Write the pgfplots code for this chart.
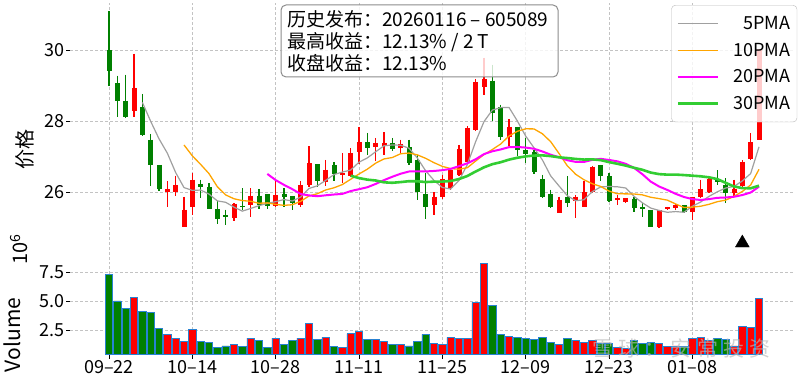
\documentclass[border=0pt]{standalone}
\usepackage{fontspec}
\setmainfont{Noto Sans CJK SC}
\newfontfamily\wmfont[LetterSpace=25]{Noto Sans CJK SC}
\usepackage{pgfplots}
\pgfplotsset{compat=1.18}
\usepackage{pgfplotstable}

\definecolor{cred}{RGB}{255,0,0}
\definecolor{cgreen}{RGB}{0,128,0}
\definecolor{ma5c}{RGB}{160,160,160}
\definecolor{ma10c}{RGB}{255,165,0}
\definecolor{ma20c}{RGB}{255,0,255}
\definecolor{ma30c}{RGB}{50,205,50}
\definecolor{baredge}{RGB}{40,130,210}
\definecolor{gridc}{RGB}{195,195,195}
\definecolor{boxc}{RGB}{140,140,140}

\pgfplotstableread{
x o h l c
3 28.28 29.91 28.12 28.94
7 26.01 26.30 25.59 26.09
8 26.00 26.46 25.89 26.20
9 25.00 25.87 25.00 25.50
10 25.57 26.55 25.35 26.35
15 25.26 25.69 25.19 25.67
17 25.62 26.11 25.29 25.90
20 25.61 26.35 25.57 25.92
23 25.64 26.30 25.59 26.20
24 26.20 27.29 26.14 26.82
26 26.28 26.91 26.16 26.63
28 26.47 27.10 26.25 26.55
29 26.46 27.24 26.42 27.10
30 27.12 27.83 26.80 27.41
32 27.27 27.53 26.88 27.39
33 27.29 27.69 27.05 27.39
35 27.24 27.48 27.07 27.37
39 25.62 26.00 25.35 25.87
40 25.87 26.49 25.80 26.37
41 26.11 26.63 26.06 26.61
42 26.49 27.33 26.44 27.22
43 26.86 27.86 26.82 27.81
44 27.76 29.20 27.72 29.11
45 28.97 29.79 28.75 29.20
48 27.56 28.05 27.29 27.84
54 25.42 25.87 25.40 25.78
56 25.75 25.92 25.26 25.87
57 25.59 26.30 25.59 26.00
58 26.00 26.74 25.98 26.72
61 25.78 25.92 25.64 25.82
62 25.73 25.83 25.69 25.83
66 25.01 25.50 24.99 25.48
67 25.53 25.59 25.48 25.57
68 25.54 25.66 25.50 25.64
70 25.43 25.87 25.21 25.87
71 25.87 26.35 25.83 26.08
72 25.99 26.40 25.97 26.37
75 25.97 26.35 25.87 26.09
76 26.16 26.90 26.12 26.86
77 26.93 27.67 26.91 27.41
78 27.46 30.05 27.46 30.05
}\redtab

\pgfplotstableread{
x o h l c
0 30.00 31.11 28.99 29.43
1 29.08 29.29 28.11 28.56
2 28.58 29.32 28.09 28.12
4 28.39 28.77 27.59 27.62
5 27.48 27.64 26.18 26.75
6 26.77 26.77 26.04 26.09
11 26.23 26.35 25.83 26.14
12 26.14 26.25 25.52 25.52
13 25.52 25.75 25.10 25.24
14 25.34 25.50 25.07 25.30
16 25.61 26.11 25.50 25.57
18 25.90 26.08 25.52 25.64
19 25.94 25.94 25.52 25.61
21 25.95 26.11 25.59 25.87
22 25.89 25.89 25.50 25.69
25 26.79 26.79 26.14 26.30
27 26.75 26.85 26.30 26.52
31 27.41 27.67 27.05 27.24
34 27.39 27.53 27.15 27.22
36 27.27 27.48 26.77 26.82
37 26.91 27.05 25.78 26.01
38 25.95 26.54 25.23 25.57
46 29.15 29.60 28.00 28.24
47 28.41 28.47 27.48 27.56
49 27.84 27.84 27.01 27.20
50 27.20 27.53 26.82 27.07
51 27.13 27.20 26.52 26.58
52 26.37 26.49 25.83 25.86
53 25.94 26.07 25.54 25.57
55 25.87 26.44 25.59 25.69
59 26.77 26.77 26.30 26.44
60 26.44 26.54 25.73 25.76
63 25.80 25.87 25.45 25.54
64 25.57 25.70 25.29 25.53
65 25.48 25.48 25.00 25.02
69 25.62 25.64 25.40 25.43
73 26.35 26.61 26.20 26.28
74 26.20 26.39 25.69 25.97
}\greentab

\pgfplotstableread{
x m5 m10 m20 m30
0 nan nan nan nan
1 nan nan nan nan
2 nan nan nan nan
3 nan nan nan nan
4 28.534 nan nan nan
5 27.998 nan nan nan
6 27.504 nan nan nan
7 27.098 nan nan nan
8 26.550 nan nan nan
9 26.126 27.330 nan nan
10 26.046 27.022 nan nan
11 26.056 26.780 nan nan
12 25.942 26.520 nan nan
13 25.750 26.150 nan nan
14 25.710 25.918 nan nan
15 25.574 25.810 nan nan
16 25.460 25.758 nan nan
17 25.536 25.739 nan nan
18 25.616 25.683 nan nan
19 25.678 25.694 26.512 nan
20 25.728 25.651 26.337 nan
21 25.788 25.624 26.202 nan
22 25.746 25.641 26.081 nan
23 25.858 25.737 25.944 nan
24 26.100 25.889 25.904 nan
25 26.176 25.952 25.881 nan
26 26.328 26.058 25.908 nan
27 26.494 26.120 25.930 nan
28 26.564 26.211 25.947 nan
29 26.620 26.360 26.027 26.461
30 26.842 26.509 26.080 26.394
31 26.964 26.646 26.135 26.350
32 27.138 26.816 26.229 26.326
33 27.306 26.935 26.336 26.274
34 27.330 26.975 26.432 26.261
35 27.322 27.082 26.517 26.281
36 27.238 27.101 26.580 26.306
37 26.962 27.050 26.585 26.303
38 26.598 26.952 26.582 26.282
39 26.328 26.829 26.595 26.294
40 26.128 26.725 26.617 26.295
41 26.086 26.662 26.654 26.311
42 26.328 26.645 26.731 26.367
43 26.776 26.687 26.811 26.453
44 27.424 26.876 26.926 26.580
45 27.990 27.059 27.071 26.698
46 28.316 27.201 27.151 26.787
47 28.384 27.356 27.203 26.842
48 28.390 27.583 27.268 26.915
49 28.008 27.716 27.273 26.968
50 27.582 27.786 27.256 27.007
51 27.250 27.783 27.223 27.030
52 26.910 27.647 27.146 27.036
53 26.456 27.423 27.055 27.015
54 26.172 27.090 26.983 26.980
55 25.896 26.739 26.899 26.960
56 25.754 26.502 26.852 26.935
57 25.782 26.346 26.851 26.917
58 26.012 26.234 26.909 26.923
59 26.144 26.158 26.937 26.901
60 26.158 26.027 26.907 26.846
61 26.148 25.951 26.867 26.799
62 26.114 25.948 26.798 26.747
63 25.878 25.945 26.684 26.685
64 25.696 25.920 26.505 26.629
65 25.548 25.853 26.296 26.550
66 25.480 25.814 26.158 26.506
67 25.428 25.771 26.059 26.491
68 25.448 25.663 25.949 26.493
69 25.428 25.562 25.860 26.479
70 25.598 25.573 25.800 26.462
71 25.718 25.599 25.775 26.444
72 25.878 25.653 25.800 26.416
73 26.006 25.727 25.836 26.365
74 26.114 25.771 25.846 26.260
75 26.158 25.878 25.866 26.157
76 26.314 26.016 25.915 26.111
77 26.522 26.200 25.986 26.106
78 27.276 26.641 26.152 26.179
}\matab

\pgfplotstableread{
x v
3 5.33
7 2.12
8 1.72
9 1.48
10 2.50
15 1.26
17 1.78
20 1.80
23 1.80
24 3.02
26 1.86
28 1.02
29 2.18
30 2.35
32 1.66
33 1.48
35 1.20
39 1.34
40 1.26
41 1.86
42 1.80
43 1.74
44 4.90
45 8.27
48 1.92
54 1.26
56 1.57
57 1.43
58 1.60
61 0.96
62 0.91
66 1.34
67 1.05
68 1.11
70 1.72
71 1.83
72 1.60
75 1.11
76 2.82
77 2.73
78 5.24
}\rvol

\pgfplotstableread{
x v
0 7.32
1 5.01
2 4.32
4 4.14
5 4.03
6 2.64
11 1.52
12 1.40
13 1.02
14 1.11
16 1.05
18 1.60
19 0.96
21 1.20
22 1.57
25 1.69
27 1.05
31 1.66
34 1.20
36 1.11
37 1.48
38 2.12
46 4.66
47 2.12
49 1.86
50 1.80
51 1.69
52 1.86
53 1.43
55 1.74
59 1.34
60 1.34
63 1.57
64 1.34
65 1.43
69 1.05
73 1.74
74 1.69
}\gvol

\pgfplotsset{
  common/.style={
    scale only axis, anchor=south west,
    width=725pt,
    xmin=-4.68, xmax=82.32,
    axis x line*=bottom, axis y line*=left,
    axis line style={draw=none},
    xtick={0,10,...,70},
    tick align=outside, major tick length=4pt,
    tick style={black, line width=0.8pt},
    grid=major,
    major grid style={gridc, dash pattern=on 3pt off 2pt, line width=0.8pt},
    tick label style={font=\fontsize{18}{20}\selectfont},
    /pgf/number format/assume math mode=true,
    yticklabel style={inner xsep=1.5pt},
    xticklabel style={inner ysep=2pt},
    filter discard warning=false,
  },
  candle/.style={only marks, mark=*, mark size=0pt,
    mark options={draw opacity=0, fill opacity=0}, forget plot,
    error bars/.cd, y dir=minus, y explicit, error mark=none},
}

\begin{document}
\begin{tikzpicture}
\path[use as bounding box] (0pt,0pt) rectangle (800pt,380pt);

\begin{axis}[common,
  at={(70pt,120pt)}, height=257pt,
  ymin=24.08, ymax=31.34,
  xticklabels={}, xtick style={draw=none},
  ytick={26,28,30}, yticklabels={26,28,30},
  legend cell align=right,
  legend image code/.code={\draw[#1, line cap=butt] (0pt,0pt) -- (40pt,0pt);},
  legend style={at={(1.003,0.992)}, anchor=north east,
    draw=gray!55, rounded corners=4pt, fill=white, fill opacity=0.8,
    text opacity=1, draw opacity=1,
    font=\fontsize{18}{20}\selectfont, row sep=8pt,
    inner xsep=5pt, inner ysep=9pt,
    /tikz/every odd column/.append style={column sep=12pt}},
]
% wicks
\addplot[candle, error bar style={line width=1.3pt, color=cgreen}]
  table[x=x, y=h, y error minus expr=\thisrow{h}-\thisrow{l}] \greentab;
\addplot[candle, error bar style={line width=1.3pt, color=cred}]
  table[x=x, y=h, y error minus expr=\thisrow{h}-\thisrow{l}] \redtab;
% bodies
\addplot[candle, error bar style={line width=5pt, color=cgreen, line cap=butt}]
  table[x=x, y=o, y error minus expr=\thisrow{o}-\thisrow{c}] \greentab;
\addplot[candle, error bar style={line width=5pt, color=cred, line cap=butt}]
  table[x=x, y=c, y error minus expr=\thisrow{c}-\thisrow{o}] \redtab;
% moving averages
\addplot[ma5c, line width=1.2pt] table[x=x, y=m5] \matab;
\addlegendentry{5PMA}
\addplot[ma10c, line width=1.3pt] table[x=x, y=m10] \matab;
\addlegendentry{10PMA}
\addplot[ma20c, line width=2pt] table[x=x, y=m20] \matab;
\addlegendentry{20PMA}
\addplot[ma30c, line width=2.6pt] table[x=x, y=m30] \matab;
\addlegendentry{30PMA}
% release marker
\addplot[only marks, mark=triangle*, mark size=8pt, black, forget plot]
  coordinates {(76,24.56)};
\end{axis}

\begin{axis}[common,
  at={(70pt,25.5pt)}, height=92.5pt,
  ymin=0.37, ymax=8.39,
  xticklabels={09–22,10–14,10–28,11–11,11–25,12–09,12–23,01–08},
  ytick={2.5,5,7.5}, yticklabels={2.5,5.0,7.5},
]
\addplot[ybar, bar width=7.4pt, bar shift=0pt, fill=cgreen, draw=baredge, line width=0.9pt]
  table[x=x, y=v] \gvol;
\addplot[ybar, bar width=7.4pt, bar shift=0pt, fill=cred, draw=baredge, line width=0.9pt]
  table[x=x, y=v] \rvol;
\end{axis}

% title box
\draw[boxc, line width=1pt, rounded corners=5pt, fill=white, fill opacity=0.8]
  (281pt,303pt) rectangle (558pt,375pt);
\begin{scope}[every node/.style={anchor=base west, inner sep=0pt, font=\fontsize{19}{21}\selectfont}]
\node at (287pt,353pt) {历史发布：20260116 – 605089};
\node at (287pt,331pt) {最高收益：12.13\% / 2 T};
\node at (287pt,309pt) {收盘收益：12.13\%};
\end{scope}

% axis labels
\node[rotate=90, font=\fontsize{20}{22}\selectfont] at (25pt,230pt) {价格};
\node[rotate=90, font=\fontsize{21}{22}\selectfont] at (12pt,45pt) {Volume};
\node[rotate=90, font=\fontsize{20}{22}\selectfont] at (19pt,131pt) {10\textsuperscript{6}};

% watermark
\node[anchor=west, text=gray!55, opacity=0.65, inner sep=0pt, font=\wmfont\fontsize{21}{23}\selectfont] at (592pt,31pt) {雪球：安常投资};
\end{tikzpicture}
\end{document}
